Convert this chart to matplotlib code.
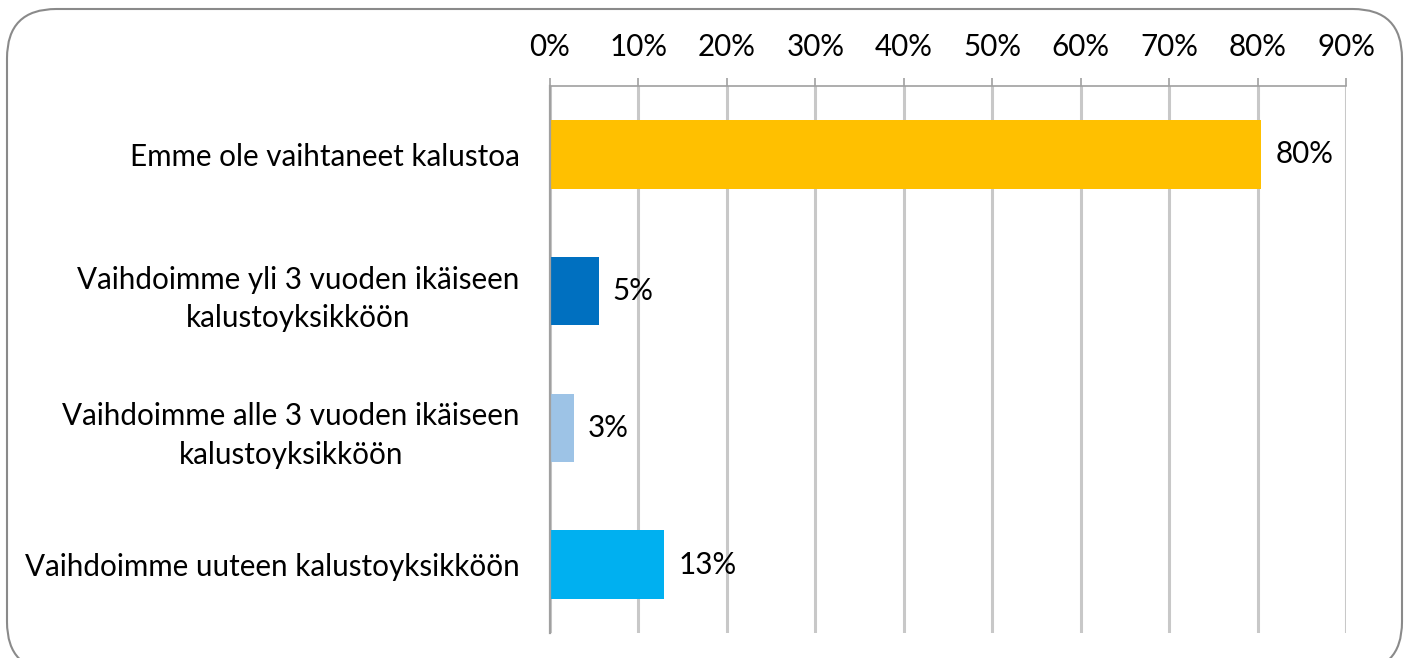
import matplotlib.pyplot as plt
from matplotlib.patches import FancyBboxPatch

categories = [
    "Emme ole vaihtaneet kalustoa",
    "Vaihdoimme yli 3 vuoden ikäiseen\nkalustoyksikköön",
    "Vaihdoimme alle 3 vuoden ikäiseen\nkalustoyksikköön",
    "Vaihdoimme uuteen kalustoyksikköön",
]
values = [80.4, 5.5, 2.7, 12.9]
value_labels = ["80%", "5%", "3%", "13%"]
colors = ["#FFC000", "#0070C0", "#9DC3E6", "#00B0F0"]
ticks = list(range(0, 100, 10))

plt.rcParams["font.family"] = ["Lato", "DejaVu Sans"]
fs = 21.3

fig = plt.figure(figsize=(14.07, 6.58), dpi=100)
ax = fig.add_axes([550 / 1407, 1 - 633 / 658, 796 / 1407, 547 / 658])

y = list(range(len(categories)))
ax.barh(y, values, height=0.5, color=colors, zorder=3)
for yi, v, lab in zip(y, values, value_labels):
    ax.text(v + 1.6, yi, lab, va="center", ha="left", fontsize=fs, color="black")

ax.set_xlim(0, 90)
ax.set_ylim(len(categories) - 0.5, -0.5)
ax.set_xticks(ticks)
ax.set_xticklabels([f"{t}%" for t in ticks], fontsize=fs)
ax.xaxis.tick_top()
ax.tick_params(axis="x", direction="out", length=6, width=1.2, color="#a0a0a0", pad=12)
ax.set_yticks(y)
ax.set_yticklabels(categories, fontsize=fs, linespacing=1.45)
for t in ax.get_yticklabels():
    t.set_multialignment("center")
ax.tick_params(axis="y", length=0, pad=22)
ax.grid(axis="x", color="#c8c8c8", linewidth=2.2, zorder=0)

for s in ["right", "bottom"]:
    ax.spines[s].set_visible(False)
ax.spines["top"].set_color("#a0a0a0")
ax.spines["top"].set_linewidth(1.2)
ax.spines["left"].set_color("#a0a0a0")
ax.spines["left"].set_linewidth(1.6)
ax.spines["left"].set_zorder(4)

border = FancyBboxPatch((7 / 1407, -0.02), 1395 / 1407, 1 - 9 / 658 + 0.02,
                        boxstyle="round,pad=0,rounding_size=0.035",
                        transform=fig.transFigure, fill=False,
                        edgecolor="#8a8a8a", linewidth=1.5, mutation_aspect=1407 / 658)
fig.patches.append(border)

fig.savefig("out.png", dpi=100)
